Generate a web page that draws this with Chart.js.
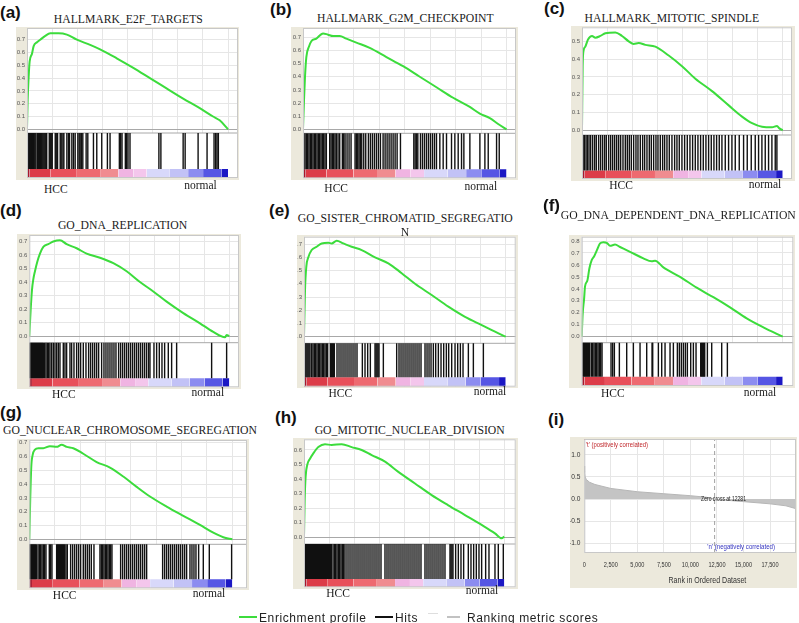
<!DOCTYPE html>
<html>
<head>
<meta charset="utf-8">
<script src="https://cdn.jsdelivr.net/npm/chart.js@4.4.0/dist/chart.umd.min.js"></script>
<style>
html, body { margin: 0; padding: 0; background: #fff; }
#fig { position: relative; width: 799px; height: 623px; overflow: hidden; }
.t { position: absolute; white-space: nowrap; line-height: 1; color: #1b1b1b; }
.c { transform: translateX(-50%); }
.ttl { font: 11.7px 'Liberation Serif', 'Times New Roman', serif; }
.lab { font: 11.5px 'Liberation Serif', 'Times New Roman', serif; }
.pl { font: bold 17px 'Liberation Sans', Arial, sans-serif; color: #111; }
.lg { font: 12px 'Liberation Sans', Arial, sans-serif; letter-spacing: 0.6px; color: #222; }
</style>
</head>
<body>
<div id="fig"></div>
<script>
// ranked list length used by the GSEA panels
var N = 20000;

// (a) HALLMARK_E2F_TARGETS
var e2fRank = [0, 66, 165, 264, 496, 661, 992, 1322, 1818, 2314, 3140, 3967, 4959, 6281, 7273, 8926, 10579, 12231, 13884, 15537, 17190, 18512, 19174, 20000];
var e2fES = [0, 0.23, 0.41, 0.53, 0.59, 0.65, 0.68, 0.70, 0.73, 0.75, 0.75, 0.74, 0.70, 0.66, 0.625, 0.555, 0.48, 0.40, 0.32, 0.24, 0.165, 0.10, 0.07, 0];
var e2fHits = [0, 90, 180, 270, 360, 450, 540, 630, 720, 810, 900, 1060, 1150, 1240, 1330, 1420, 1510, 1600, 1690, 1780, 1870, 1960, 2215, 2314, 2413, 2512, 2810, 2909, 3041, 3306, 3405, 3570, 3669, 3967, 4132, 4231, 4463, 4628, 4793, 5058, 5190, 5289, 5421, 5554, 5884, 6050, 6612, 6942, 7438, 8000, 8264, 9190, 9322, 9455, 9785, 9917, 10050, 10248, 13124, 13322, 15537, 15736, 17025, 17917, 18612, 18777, 18909, 19041];

// (b) HALLMARK_G2M_CHECKPOINT
var g2mRank = [0, 98, 197, 328, 590, 820, 1311, 1967, 2459, 2951, 3607, 4262, 5246, 6557, 8197, 9836, 11475, 13115, 14754, 16393, 17377, 18361, 19180, 20000];
var g2mES = [0, 0.22, 0.40, 0.55, 0.63, 0.67, 0.69, 0.73, 0.72, 0.71, 0.71, 0.69, 0.66, 0.62, 0.55, 0.48, 0.40, 0.32, 0.24, 0.17, 0.12, 0.085, 0.04, 0];
var g2mHits = [66, 197, 328, 459, 590, 722, 853, 984, 1115, 1246, 1378, 1509, 1640, 1771, 1902, 2034, 2165, 2296, 2624, 2755, 2886, 3018, 3149, 3280, 3444, 3608, 3870, 4002, 4133, 4330, 4526, 4723, 5117, 5248, 5379, 5510, 5642, 5773, 5970, 6166, 6429, 6626, 6822, 7019, 7216, 7413, 7610, 7872, 8069, 8266, 8462, 8659, 8856, 9053, 9250, 9578, 10890, 11021, 11152, 11283, 11546, 11742, 11939, 12136, 12333, 12530, 12726, 12923, 13120, 13448, 13776, 14104, 14596, 14924, 15252, 15580, 15810, 16400, 17384, 17876, 18204, 19024, 19286];

// (c) HALLMARK_MITOTIC_SPINDLE
var spindleRank = [0, 66, 166, 332, 598, 997, 1329, 1827, 2326, 3322, 3987, 4651, 5150, 5648, 6312, 7309, 8638, 9967, 11296, 12957, 14618, 15947, 16944, 17940, 18937, 19435, 19668, 20000];
var spindleES = [0, 0.36, 0.45, 0.47, 0.51, 0.53, 0.52, 0.53, 0.545, 0.55, 0.53, 0.50, 0.485, 0.49, 0.48, 0.47, 0.42, 0.36, 0.29, 0.22, 0.14, 0.077, 0.04, 0.02, 0.017, 0.024, 0.011, 0];
var spindleHits = [100, 232, 398, 531, 697, 863, 1062, 1262, 1428, 1660, 1859, 2058, 2258, 2424, 2656, 2855, 3054, 3254, 3453, 3652, 3851, 4084, 4316, 4515, 4714, 4914, 5146, 5378, 5578, 5810, 6042, 6242, 6474, 6706, 6906, 7138, 7370, 7570, 7802, 8034, 8234, 8466, 8698, 8964, 9230, 9462, 9694, 9960, 10226, 10491, 10757, 11022, 11288, 11554, 11819, 12085, 12350, 12616, 12882, 13147, 13413, 13678, 13944, 14276, 14608, 14940, 15272, 15670, 16102, 16467, 16866, 17264, 17596, 17928, 18260, 18592, 18924, 19256, 19422];

// (d) GO_DNA_REPLICATION
var dnaRepRank = [0, 133, 267, 400, 567, 800, 1067, 1400, 1900, 2400, 3067, 3733, 4733, 5733, 7067, 8400, 9733, 11067, 12400, 13733, 15400, 17067, 18400, 19567, 19733, 20000];
var dnaRepES = [0, 0.19, 0.34, 0.42, 0.48, 0.55, 0.61, 0.66, 0.68, 0.70, 0.71, 0.68, 0.65, 0.61, 0.58, 0.54, 0.48, 0.40, 0.33, 0.255, 0.17, 0.094, 0.03, -0.01, 0.007, 0];
var dnaRepHits = [0, 100, 200, 300, 400, 500, 600, 700, 800, 900, 1000, 1100, 1200, 1300, 1400, 1533, 1667, 1800, 1933, 2067, 2233, 2400, 2567, 2733, 2900, 3067, 3400, 3567, 3733, 4067, 4233, 4467, 4733, 4933, 5133, 5400, 5667, 5933, 6133, 6333, 6533, 6733, 6933, 7233, 7467, 7667, 7867, 8067, 8267, 8467, 8667, 8933, 9133, 9333, 9533, 9733, 9933, 10133, 10333, 10533, 10733, 10933, 11133, 11333, 11533, 11733, 11933, 12067, 12467, 12733, 13000, 13267, 13533, 13900, 14233, 14733, 18233, 19733];

// (e) GO_SISTER_CHROMATID_SEGREGATION
var sisterRank = [0, 99, 231, 430, 760, 1256, 1752, 2413, 2744, 3240, 3901, 4727, 5719, 7041, 8364, 9686, 11008, 12661, 14314, 15967, 17620, 18942, 20000];
var sisterES = [0, 0.35, 0.53, 0.60, 0.655, 0.68, 0.705, 0.71, 0.705, 0.725, 0.705, 0.68, 0.655, 0.60, 0.555, 0.48, 0.40, 0.315, 0.227, 0.15, 0.088, 0.038, 0];
var sisterHits = [0, 99, 198, 298, 397, 496, 595, 760, 893, 1025, 1157, 1289, 1422, 1554, 1686, 1818, 1951, 2083, 2215, 2347, 2612, 2711, 2810, 2909, 3008, 3273, 3471, 3669, 3868, 4066, 4265, 4463, 4661, 4860, 5058, 5256, 5785, 6050, 6314, 6579, 7042, 7141, 7240, 7339, 7438, 7868, 9190, 9422, 9620, 9818, 10017, 10215, 10413, 10612, 10810, 11008, 11207, 11405, 11603, 12000, 12199, 12397, 12595, 12826, 13058, 13322, 13587, 13851, 14116, 14347, 14645, 14976, 15240, 15505, 15769, 16298, 16794, 17786];

// (f) GO_DNA_DEPENDENT_DNA_REPLICATION
var depRank = [0, 100, 232, 332, 564, 763, 995, 1227, 1493, 1824, 2156, 2488, 2819, 3317, 3814, 4809, 6136, 6965, 7297, 8126, 9784, 11443, 13101, 14760, 16418, 18076, 20000];
var depES = [0, 0.195, 0.31, 0.42, 0.47, 0.57, 0.64, 0.67, 0.72, 0.78, 0.79, 0.785, 0.76, 0.77, 0.75, 0.71, 0.655, 0.63, 0.635, 0.58, 0.50, 0.41, 0.33, 0.245, 0.153, 0.078, 0];
var depHits = [100, 199, 299, 398, 498, 597, 697, 796, 962, 1095, 1227, 1360, 1493, 1625, 1758, 1891, 2023, 2919, 3085, 3251, 3748, 4478, 5141, 5805, 6468, 6999, 7065, 7629, 7961, 8293, 8790, 9122, 9520, 9719, 9918, 10117, 10316, 10515, 10847, 11112, 11377, 11842, 11941, 12041, 12140, 12240, 12505, 12936, 13931, 14495];

// (g) GO_NUCLEAR_CHROMOSOME_SEGREGATION
var nuclearRank = [0, 99, 197, 328, 558, 887, 1379, 2036, 2693, 3186, 3678, 4335, 5320, 6634, 7947, 9261, 10575, 11888, 13530, 15172, 16814, 18128, 19113, 20000];
var nuclearES = [0, 0.31, 0.53, 0.61, 0.65, 0.66, 0.66, 0.675, 0.67, 0.685, 0.67, 0.66, 0.62, 0.56, 0.52, 0.455, 0.38, 0.31, 0.237, 0.17, 0.104, 0.048, 0.015, 0];
var nuclearHits = [0, 99, 197, 296, 394, 493, 591, 690, 854, 985, 1117, 1248, 1379, 1511, 1642, 1970, 2102, 2233, 2693, 2791, 2890, 2988, 3087, 3185, 3284, 3383, 3481, 3612, 3744, 4072, 4269, 4466, 4663, 4860, 5057, 5320, 5517, 5714, 5911, 6108, 6371, 6962, 7093, 7225, 7356, 7488, 7619, 7750, 7882, 8013, 8144, 8998, 9195, 9392, 9589, 9786, 9983, 10180, 10377, 10574, 10771, 10968, 11166, 11363, 11560, 13136, 13333, 13530, 13727, 13924, 14121, 14318, 14515, 14712, 14909, 15106, 15303, 15500, 15829, 16026, 16223, 16420, 16683, 17143, 17734, 19934];

// (h) GO_MITOTIC_NUCLEAR_DIVISION
var divisionRank = [0, 67, 166, 333, 599, 932, 1431, 2097, 2762, 3760, 4759, 5757, 6755, 8087, 9418, 11082, 12745, 14409, 16073, 17737, 19068, 19734, 20000];
var divisionES = [0, 0.256, 0.42, 0.50, 0.54, 0.577, 0.62, 0.64, 0.634, 0.64, 0.62, 0.60, 0.565, 0.52, 0.45, 0.37, 0.29, 0.22, 0.153, 0.085, 0.027, -0.007, 0.005];
var divisionHits = [33, 133, 233, 333, 433, 532, 632, 732, 832, 932, 1032, 1132, 1231, 1331, 1431, 1531, 1631, 1731, 1830, 1930, 2030, 2130, 2230, 2330, 2429, 2529, 2629, 2729, 2895, 3028, 3162, 3295, 3428, 3561, 3694, 3827, 3960, 4093, 4293, 4493, 4692, 4892, 5092, 5292, 5491, 5691, 5891, 6090, 6290, 6490, 6689, 6889, 7089, 7288, 7488, 7688, 8087, 8287, 8486, 8686, 8886, 9085, 9285, 9485, 9684, 9884, 10084, 10284, 10483, 10683, 10883, 11082, 11282, 11482, 11681, 12081, 12280, 12480, 12680, 12879, 13079, 13279, 13478, 13678, 13878, 14077, 14577, 14676, 14776, 14876, 15142, 15409, 15675, 15941, 16407, 16673, 16940, 17206, 17472, 17738, 18138, 18470, 19069, 19402, 19901];

// ranked-list colour bar: breaks along the rank axis
var colorBreaks = [0, 264, 2314, 4959, 7273, 9090, 10579, 11901, 14215, 16033, 17521, 19339, 20000];
var colorBarColors = ['#a8182c', '#dc3c48', '#e8505a', '#ee6a70', '#f08c90', '#f0b4e2', '#f4c6ec', '#d8d8fa', '#c2c2f6', '#8c8cf0', '#5656e4', '#1c18c4'];

var rankTicks = [0, 2500, 5000, 7500, 10000, 12500, 15000, 17500, 20000];
var esTicks = [0, 0.1, 0.2, 0.3, 0.4, 0.5, 0.6, 0.7, 0.8];

// (i) ranked list metric
var metricRank = [0, 30, 80, 200, 500, 1000, 2500, 5000, 7500, 10000, 11500, 12281, 13500, 15000, 17500, 19000, 19950];
var metricScore = [0.75, 0.6, 0.5, 0.44, 0.38, 0.33, 0.24, 0.165, 0.12, 0.075, 0.04, 0, -0.03, -0.06, -0.11, -0.155, -0.22];
var metricTicks = [-1, -0.5, 0, 0.5, 1];
var metricRankTicks = [0, 2500, 5000, 7500, 10000, 12500, 15000, 17500];
var zeroCross = 12281;
var rankedTotal = 19950;

var beige = '#ece9dc';
var green = '#3cdc3c';
var sans = "'Liberation Sans', Arial, sans-serif";

var fig = document.getElementById('fig');

var panels = [
  {label: '(a)', labelAt: [0, 3], title: 'HALLMARK_E2F_TARGETS', titleAt: [128.3, 19], hcc: [55.8, 188.3], normal: [200.5, 185],
   rank: e2fRank, es: e2fES, hits: e2fHits,
   box: {frame: [16, 27, 239, 180], plotL: 27, plotT: 28, plotR: 238, y0: 129.3, px01: 12.8, hitsTop: 133, cbarTop: 169, cbarBot: 178, end: 228}},
  {label: '(b)', labelAt: [270, 0], title: 'HALLMARK_G2M_CHECKPOINT', titleAt: [405.3, 18.3], hcc: [336.2, 188], normal: [480.8, 186],
   rank: g2mRank, es: g2mES, hits: g2mHits,
   box: {frame: [291, 27, 518, 180], plotL: 303, plotT: 28, plotR: 516, y0: 129.3, px01: 13.14, hitsTop: 133.3, cbarTop: 169.3, cbarBot: 178.3, end: 506.5}},
  {label: '(c)', labelAt: [544, -1.5], title: 'HALLMARK_MITOTIC_SPINDLE', titleAt: [671.8, 18.3], hcc: [621, 185], normal: [765, 183.7],
   rank: spindleRank, es: spindleES, hits: spindleHits,
   box: {frame: [571, 26, 795, 181], plotL: 582, plotT: 27.3, plotR: 792, y0: 130.3, px01: 17.8, hitsTop: 135, cbarTop: 170.5, cbarBot: 179, end: 782.7}},
  {label: '(d)', labelAt: [0, 201.2], title: 'GO_DNA_REPLICATION', titleAt: [122.5, 225], hcc: [63.8, 393.3], normal: [207.8, 391.7],
   rank: dnaRepRank, es: dnaRepES, hits: dnaRepHits,
   box: {frame: [17, 234, 241, 389], plotL: 29.3, plotT: 235, plotR: 239, y0: 336, px01: 13.5, hitsTop: 342.7, cbarTop: 378.3, cbarBot: 387.3, end: 229.3}},
  {label: '(e)', labelAt: [269, 201.2], title: 'GO_SISTER_CHROMATID_SEGREGATIO', titleAt: [405.3, 218.3], extra: ['N', 405, 231.7], hcc: [340.3, 392.3], normal: [490, 390.7],
   rank: sisterRank, es: sisterES, hits: sisterHits,
   box: {frame: [297, 235, 518, 388], plotL: 304, plotT: 236.7, plotR: 515.7, y0: 336.7, px01: 13.23, hitsTop: 343.3, cbarTop: 377.3, cbarBot: 386.7, end: 505.7}},
  {label: '(f)', labelAt: [543, 196.2], title: 'GO_DNA_DEPENDENT_DNA_REPLICATION', titleAt: [678.3, 215], hcc: [612.8, 392.3], normal: [760, 391.7],
   rank: depRank, es: depES, hits: depHits,
   box: {frame: [569, 235, 795, 388], plotL: 581.7, plotT: 236.7, plotR: 793.3, y0: 336.7, px01: 11.96, hitsTop: 342.7, cbarTop: 376.7, cbarBot: 386, end: 782.7}},
  {label: '(g)', labelAt: [0, 403.2], title: 'GO_NUCLEAR_CHROMOSOME_SEGREGATION', titleAt: [130, 430], hcc: [64.7, 595], normal: [209, 593],
   rank: nuclearRank, es: nuclearES, hits: nuclearHits,
   box: {frame: [17, 439, 249, 590], plotL: 29.3, plotT: 440, plotR: 247, y0: 539.3, px01: 13.8, hitsTop: 544.3, cbarTop: 579.3, cbarBot: 588.3, end: 232.3}},
  {label: '(h)', labelAt: [275, 408.2], title: 'GO_MITOTIC_NUCLEAR_DIVISION', titleAt: [409.7, 430], hcc: [338, 592.5], normal: [482, 590],
   rank: divisionRank, es: divisionES, hits: divisionHits,
   box: {frame: [293, 438, 518, 589], plotL: 304, plotT: 439.3, plotR: 515.7, y0: 537.3, px01: 14.55, hitsTop: 544, cbarTop: 579, cbarBot: 587.3, end: 504.3}}
];

function addText(cls, txt, x, y, centered) {
  var d = document.createElement('div');
  d.className = 't ' + cls + (centered ? ' c' : '');
  d.textContent = txt;
  d.style.left = x + 'px';
  d.style.top = y + 'px';
  fig.appendChild(d);
  return d;
}

function addCanvas(frame) {
  var cv = document.createElement('canvas');
  var w = frame[2] - frame[0], h = frame[3] - frame[1];
  cv.width = w;
  cv.height = h;
  cv.style.cssText = 'position:absolute;left:' + frame[0] + 'px;top:' + frame[1] + 'px;width:' + w + 'px;height:' + h + 'px;background:' + beige;
  fig.appendChild(cv);
  return cv;
}

var plotBg = {
  id: 'plotBg',
  beforeDraw: function (c) {
    var a = c.chartArea, g = c.ctx;
    g.save();
    g.fillStyle = '#fff';
    g.fillRect(a.left, a.top, a.right - a.left, a.bottom - a.top);
    g.restore();
  },
  afterDraw: function (c) {
    var a = c.chartArea, g = c.ctx;
    g.save();
    g.strokeStyle = '#c8c8c8';
    g.lineWidth = 1;
    g.strokeRect(a.left + 0.5, a.top + 0.5, a.right - a.left - 1, a.bottom - a.top - 1);
    g.restore();
  }
};

function gseaPanel(p) {
  var L = p.box;
  var cv = addCanvas(L.frame);
  var u = L.px01 * 10;
  var yMax = (L.y0 - L.plotT) / u;
  var yMin = (L.y0 - L.cbarBot) / u;
  var hitsV = (L.y0 - L.hitsTop) / u;
  var cbarV = (L.y0 - L.cbarTop) / u;
  var xMax = N * (L.plotR - L.plotL) / (L.end - L.plotL);

  var datasets = [];
  datasets.push({
    type: 'line', order: 0,
    data: p.rank.map(function (r, i) { return {x: r, y: p.es[i]}; }),
    borderColor: green, borderWidth: 2, pointRadius: 0, fill: false,
    cubicInterpolationMode: 'monotone'
  });
  datasets.push({
    type: 'bar', order: 1, grouped: false,
    data: p.hits.map(function (r) { return {x: r, y: [cbarV, hitsV]}; }),
    backgroundColor: '#111', borderWidth: 0, barThickness: 1.4, inflateAmount: 0
  });
  for (var i = 0; i < colorBarColors.length; i++) {
    datasets.push({
      type: 'line', order: 2,
      data: [{x: colorBreaks[i], y: cbarV}, {x: colorBreaks[i + 1], y: cbarV}],
      borderWidth: 0, pointRadius: 0, fill: {value: yMin}, backgroundColor: colorBarColors[i]
    });
  }
  datasets.push({
    type: 'line', order: 3,
    data: [{x: 0, y: cbarV}, {x: xMax, y: cbarV}],
    borderWidth: 0, pointRadius: 0, fill: {value: yMin}, backgroundColor: '#fff'
  });
  datasets.push({
    type: 'line', order: 4,
    data: [{x: 0, y: hitsV}, {x: xMax, y: hitsV}],
    borderColor: '#a8a8a8', borderWidth: 1, pointRadius: 0, fill: {value: cbarV}, backgroundColor: '#fff'
  });

  new Chart(cv, {
    type: 'line',
    data: {datasets: datasets},
    options: {
      animation: false, responsive: false, events: [],
      layout: {padding: {top: L.plotT - L.frame[1], right: L.frame[2] - L.plotR, bottom: L.frame[3] - L.cbarBot, left: 0}},
      plugins: {legend: {display: false}, tooltip: {enabled: false}},
      scales: {
        x: {
          type: 'linear', min: 0, max: xMax, offset: false,
          ticks: {display: false},
          border: {display: false},
          grid: {color: '#e6e6e6', drawTicks: false, offset: false},
          afterBuildTicks: function (s) { s.ticks = rankTicks.filter(function (v) { return v <= xMax; }).map(function (v) { return {value: v}; }); },
          afterFit: function (s) { s.height = 0; s.paddingLeft = 0; s.paddingRight = 0; }
        },
        y: {
          type: 'linear', min: yMin, max: yMax,
          ticks: {font: {size: 6, family: sans}, color: '#555', padding: 2,
                  callback: function (v) { return v.toFixed(1); }},
          border: {display: false},
          grid: {drawTicks: false, color: function (c) { return c.tick && c.tick.value === 0 ? '#a8a8a8' : '#e6e6e6'; }},
          afterBuildTicks: function (s) { s.ticks = esTicks.filter(function (v) { return v <= yMax + 1e-9; }).map(function (v) { return {value: v}; }); },
          afterFit: function (s) { s.width = L.plotL - L.frame[0]; s.paddingTop = 0; s.paddingBottom = 0; }
        }
      }
    },
    plugins: [plotBg]
  });
}

panels.forEach(gseaPanel);

// narrow-looking canvas text: squeeze horizontally around the anchor
function squeezed(g, txt, x, y, align, sx) {
  g.save();
  g.translate(x, y);
  g.scale(sx, 1);
  g.textAlign = align;
  g.fillText(txt, 0, 0);
  g.restore();
}

// (i) ranked list metric panel
(function () {
  var frame = [570, 437, 797, 588];
  var cv = addCanvas(frame);
  var y0 = 499, unit = 44, plotT = 439, plotB = 553;
  var yMax = (y0 - plotT) / unit, yMin = (y0 - plotB) / unit;

  var labels = {
    id: 'labels',
    afterDraw: function (c) {
      var x = c.scales.x, y = c.scales.y, g = c.ctx;
      g.save();
      g.textBaseline = 'middle';
      g.fillStyle = '#333';
      g.font = '7.2px ' + sans;
      metricTicks.forEach(function (v) { squeezed(g, v.toFixed(1), 580.5 - frame[0], y.getPixelForValue(v), 'right', 0.92); });
      g.font = '7px ' + sans;
      metricRankTicks.forEach(function (v) { squeezed(g, v.toLocaleString('en-US'), x.getPixelForValue(v), 565 - frame[1], 'center', 0.8); });
      g.font = '8.8px ' + sans;
      squeezed(g, 'Rank in Ordered Dataset', x.getPixelForValue(11600), 581 - frame[1], 'center', 0.8);
      g.font = '7px ' + sans;
      g.fillStyle = '#c0282c';
      squeezed(g, "'t' (positively correlated)", x.getPixelForValue(150), y.getPixelForValue(1.23), 'left', 0.85);
      g.fillStyle = '#3434c0';
      squeezed(g, "'n' (negatively correlated)", x.getPixelForValue(14780), y.getPixelForValue(-1.09), 'center', 0.87);
      g.fillStyle = '#222';
      squeezed(g, 'Zero cross at ' + zeroCross, x.getPixelForValue(13120), y.getPixelForValue(0), 'center', 0.72);
      g.restore();
    }
  };

  new Chart(cv, {
    type: 'line',
    data: {datasets: [
      {data: metricRank.map(function (r, i) { return {x: r, y: metricScore[i]}; }),
       fill: 'origin', backgroundColor: '#c4c4c4', borderColor: '#b6b6b6', borderWidth: 1, pointRadius: 0, order: 3},
      {data: [{x: zeroCross, y: yMin}, {x: zeroCross, y: yMax}],
       borderColor: '#a0a0a0', borderWidth: 1, borderDash: [4, 3], pointRadius: 0, fill: false, order: 2},
      {data: [{x: 0, y: yMax}, {x: 10000, y: yMax}], borderColor: '#d8505a', borderWidth: 2, pointRadius: 0, fill: false, order: 1},
      {data: [{x: 10000, y: yMax}, {x: 13000, y: yMax}], borderColor: '#c0a8cc', borderWidth: 2, pointRadius: 0, fill: false, order: 1},
      {data: [{x: 13000, y: yMax}, {x: rankedTotal, y: yMax}], borderColor: '#8a8ad8', borderWidth: 2, pointRadius: 0, fill: false, order: 1}
    ]},
    options: {
      animation: false, responsive: false, events: [],
      layout: {padding: {top: plotT - frame[1], right: 1, bottom: 1, left: 0}},
      plugins: {legend: {display: false}, tooltip: {enabled: false}},
      scales: {
        x: {
          type: 'linear', min: 0, max: rankedTotal,
          ticks: {display: false},
          border: {display: false},
          grid: {color: '#e6e6e6', drawTicks: false},
          afterBuildTicks: function (s) { s.ticks = metricRankTicks.map(function (v) { return {value: v}; }); },
          afterFit: function (s) { s.height = frame[3] - 1 - plotB; s.paddingLeft = 0; s.paddingRight = 0; }
        },
        y: {
          type: 'linear', min: yMin, max: yMax,
          ticks: {display: false},
          border: {display: false},
          grid: {color: '#e6e6e6', drawTicks: false},
          afterBuildTicks: function (s) { s.ticks = metricTicks.map(function (v) { return {value: v}; }); },
          afterFit: function (s) { s.width = 584.3 - frame[0]; s.paddingTop = 0; s.paddingBottom = 0; }
        }
      }
    },
    plugins: [plotBg, labels]
  });
})();

// texts: panel letters, titles, class labels
panels.forEach(function (p) {
  addText('pl', p.label, p.labelAt[0], p.labelAt[1], false);
  addText('ttl', p.title, p.titleAt[0], p.titleAt[1] - 5.85, true);
  if (p.extra) addText('ttl', p.extra[0], p.extra[1], p.extra[2] - 5.85, true);
  addText('lab', 'HCC', p.hcc[0], p.hcc[1] - 5.75, true);
  addText('lab', 'normal', p.normal[0], p.normal[1] - 5.75, true);
});
addText('pl', '(i)', 548, 410.2, false);

// legend
function swatch(x, y, w, h, color) {
  var d = document.createElement('div');
  d.style.cssText = 'position:absolute;left:' + x + 'px;top:' + y + 'px;width:' + w + 'px;height:' + h + 'px;background:' + color;
  fig.appendChild(d);
}
swatch(239, 615.5, 18, 2.5, green);
addText('lg', 'Enrichment profile', 259, 610.8, false);
swatch(375, 616, 18, 1.5, '#111');
addText('lg', 'Hits', 395, 610.8, false);
swatch(428, 612.5, 10, 1, '#dedede');
swatch(447, 616, 13, 1.5, '#c2c2c2');
addText('lg', 'Ranking metric scores', 467, 610.8, false);
</script>
</body>
</html>
